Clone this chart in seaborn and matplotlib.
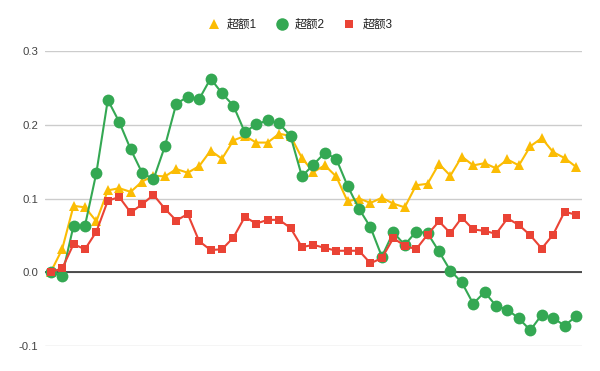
import matplotlib
matplotlib.use("Agg")
import matplotlib.pyplot as plt
import seaborn as sns
import pandas as pd
from matplotlib.lines import Line2D

# ---- data ----
labels = ["超额1", "超额2", "超额3"]
excess1 = [0.000, 0.031, 0.090, 0.088, 0.069, 0.111, 0.114, 0.109, 0.123, 0.131,
           0.130, 0.140, 0.135, 0.144, 0.165, 0.154, 0.179, 0.185, 0.176, 0.176,
           0.188, 0.185, 0.155, 0.136, 0.145, 0.130, 0.096, 0.100, 0.094, 0.101,
           0.093, 0.088, 0.118, 0.120, 0.147, 0.131, 0.157, 0.145, 0.148, 0.141,
           0.153, 0.145, 0.171, 0.182, 0.163, 0.155, 0.143]
excess2 = [0.000, -0.005, 0.063, 0.063, 0.135, 0.234, 0.204, 0.167, 0.135, 0.126,
           0.171, 0.229, 0.238, 0.235, 0.263, 0.243, 0.226, 0.190, 0.201, 0.206,
           0.202, 0.185, 0.130, 0.146, 0.162, 0.154, 0.117, 0.086, 0.061, 0.021,
           0.054, 0.037, 0.055, 0.053, 0.028, 0.002, -0.014, -0.043, -0.027, -0.046,
           -0.051, -0.063, -0.079, -0.058, -0.062, -0.073, -0.060]
excess3 = [0.000, 0.005, 0.038, 0.031, 0.055, 0.097, 0.102, 0.081, 0.092, 0.105,
           0.086, 0.070, 0.079, 0.042, 0.030, 0.031, 0.047, 0.075, 0.066, 0.071,
           0.071, 0.060, 0.034, 0.037, 0.033, 0.029, 0.029, 0.029, 0.012, 0.019,
           0.046, 0.036, 0.031, 0.051, 0.069, 0.053, 0.074, 0.058, 0.056, 0.052,
           0.073, 0.064, 0.050, 0.032, 0.051, 0.082, 0.078]
yticks = [-0.1, 0.0, 0.1, 0.2, 0.3]
ytick_labels = ["-0.1", "0.0", "0.1", "0.2", "0.3"]

colors = ["#FBBC04", "#34A853", "#EA4335"]
markers = ["^", "o", "s"]
msizes = [7.5, 8.5, 6.2]

sns.set_theme(style="white")
plt.rcParams['font.family'] = ['Liberation Sans', 'Noto Sans CJK SC', 'DejaVu Sans']

fig = plt.figure(figsize=(6, 3.71), dpi=100)
ax = fig.add_axes([0.075, 0.0682, 0.8945, 0.7935])

x = list(range(len(excess1)))
for vals, c, m, ms in zip([excess1, excess2, excess3], colors, markers, msizes):
    df = pd.DataFrame({"x": x, "y": vals})
    sns.lineplot(data=df, x="x", y="y", ax=ax, color=c, marker=m,
                 markersize=ms, markeredgewidth=0, linewidth=1.5,
                 legend=False, zorder=3)

ax.set_ylim(-0.1, 0.3)
ax.set_xlim(-0.5, len(x) - 0.5)
ax.set_yticks(yticks)
ax.set_yticklabels(ytick_labels)
ax.set_xticks([])
ax.set_xlabel("")
ax.set_ylabel("")
ax.yaxis.grid(True, color="#cccccc", linewidth=1)
ax.axhline(0, color="#333333", linewidth=1.2, zorder=2)
for s in ax.spines.values():
    s.set_visible(False)
ax.tick_params(axis="y", length=0, pad=5, labelsize=8.2, labelcolor="#444444")

handles = [Line2D([], [], linestyle="none", marker=m, color=c, markersize=ms,
                  markeredgewidth=0)
           for m, c, ms in zip(markers, colors, [7, 9, 6])]
fig.legend(handles, labels, loc="center", bbox_to_anchor=(0.5, 1 - 25 / 371),
           ncol=3, frameon=False, fontsize=8.5, handletextpad=0.6,
           columnspacing=1.6, handlelength=1.0, labelcolor="#222222")

fig.savefig("out.png", dpi=100)
